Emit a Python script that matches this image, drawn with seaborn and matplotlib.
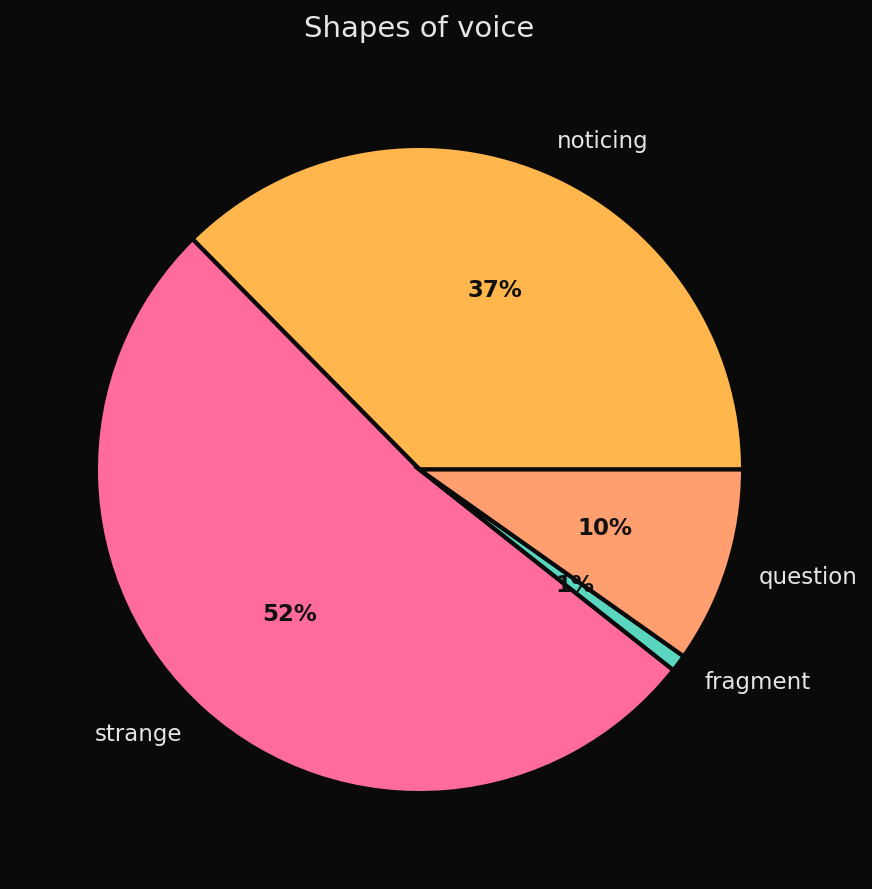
import matplotlib
matplotlib.use("Agg")
import matplotlib.pyplot as plt
import seaborn as sns

categories = ["noticing", "strange", "fragment", "question"]
values = [37.4, 52.0, 0.85, 9.8]
colors = ["#FFB74D", "#FF6B9D", "#5AD6C0", "#FF9E6E"]

BG = "#0a0a0a"
TXT = "#e6e6e6"

sns.set_theme(style="dark")
plt.rcParams['font.family'] = ['DejaVu Sans']

fig = plt.figure(figsize=(8.72, 8.89), dpi=100, facecolor=BG)
W = 809
ax = fig.add_axes([(419.5 - W / 2) / 872, 15 / 889, W / 872, W / 889])
ax.set_facecolor(BG)

wedges, texts, autotexts = ax.pie(
    values, labels=categories, colors=colors, autopct="%1.0f%%",
    startangle=0, counterclock=True,
    wedgeprops=dict(edgecolor=BG, linewidth=3),
    textprops=dict(color=TXT, fontsize=16.5),
)
for t in autotexts:
    t.set_color("#111111")
    t.set_fontweight("bold")
    t.set_fontsize(16.5)

ax.set_title("Shapes of voice", color=TXT, fontsize=21, pad=20)
fig.savefig("out.png", dpi=100, facecolor=BG)
